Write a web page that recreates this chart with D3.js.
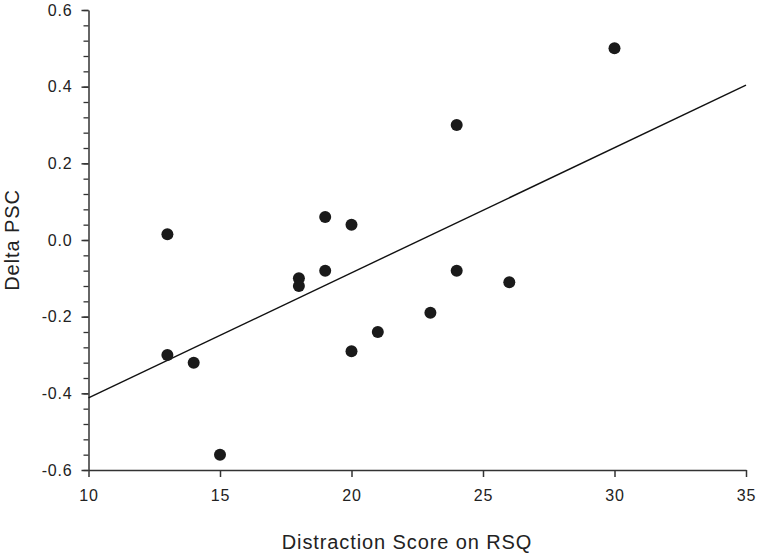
<!DOCTYPE html>
<html>
<head>
<meta charset="utf-8">
<script src="https://cdn.jsdelivr.net/npm/d3@7"></script>
<style>
  html, body { margin: 0; padding: 0; background: #fff; }
  svg { display: block; font-family: "Liberation Sans", Arial, sans-serif; }
</style>
</head>
<body>
<svg id="chart" width="760" height="554"></svg>
<script>
const xValues = [13, 13, 14, 15, 18, 18, 19, 19, 20, 20, 21, 23, 24, 24, 26, 30];
const yValues = [0.015, -0.30, -0.32, -0.56, -0.10, -0.12, 0.06, -0.08, 0.04, -0.29, -0.24, -0.19, 0.30, -0.08, -0.11, 0.50];
const fitX = [10, 35];
const fitY = [-0.412, 0.404];
const xTicks = [10, 15, 20, 25, 30, 35];
const yTicks = [-0.6, -0.4, -0.2, 0.0, 0.2, 0.4, 0.6];
const yMinorTicks = d3.range(-0.6, 0.6001, 0.04).map(v => +v.toFixed(2));
const xTitle = "Distraction Score on RSQ";
const yTitle = "Delta PSC";

const svg = d3.select("#chart");
const x = d3.scaleLinear().domain([10, 35]).range([88.5, 746]);
const y = d3.scaleLinear().domain([-0.6, 0.6]).range([470, 10]);
const axisColor = "#333";
const textColor = "#222";
const fmtY = d => d3.format(".1f")(d).replace("\u2212", "-");

// Y minor ticks
const gyMinor = svg.append("g").attr("transform", `translate(${x(10)},0)`)
  .call(d3.axisLeft(y).tickValues(yMinorTicks).tickSize(5).tickFormat(""));
gyMinor.select(".domain").remove();
gyMinor.selectAll("line").attr("stroke", axisColor).attr("stroke-width", 1.3);

// Y axis
const gy = svg.append("g").attr("transform", `translate(${x(10)},0)`)
  .call(d3.axisLeft(y).tickValues(yTicks).tickSize(7).tickSizeOuter(0).tickPadding(9)
    .tickFormat(fmtY));
gy.select(".domain").attr("stroke", axisColor).attr("stroke-width", 1.5);
gy.selectAll("line").attr("stroke", axisColor).attr("stroke-width", 1.5);
gy.selectAll("text").attr("font-size", 16).attr("fill", textColor)
  .attr("letter-spacing", 0.8)
  .attr("font-family", "Liberation Sans, Arial, sans-serif");

// X axis
const gx = svg.append("g").attr("transform", `translate(0,${y(-0.6)})`)
  .call(d3.axisBottom(x).tickValues(xTicks).tickSize(7).tickSizeOuter(0).tickPadding(13)
    .tickFormat(d3.format("d")));
gx.select(".domain").attr("stroke", axisColor).attr("stroke-width", 1.5);
gx.selectAll("line").attr("stroke", axisColor).attr("stroke-width", 1.5);
gx.selectAll("text").attr("font-size", 16).attr("fill", textColor)
  .attr("letter-spacing", 0.8)
  .attr("font-family", "Liberation Sans, Arial, sans-serif");

// Regression line
svg.append("line")
  .attr("x1", x(fitX[0])).attr("y1", y(fitY[0]))
  .attr("x2", x(fitX[1])).attr("y2", y(fitY[1]))
  .attr("stroke", "#111").attr("stroke-width", 1.4);

// Points
svg.append("g").selectAll("circle")
  .data(xValues.map((v, i) => [v, yValues[i]]))
  .join("circle")
  .attr("cx", d => x(d[0])).attr("cy", d => y(d[1]))
  .attr("r", 6).attr("fill", "#1a1a1a");

// Titles
svg.append("text")
  .attr("x", 407).attr("y", 549)
  .attr("text-anchor", "middle").attr("font-size", 20).attr("fill", textColor)
  .attr("letter-spacing", 0.9)
  .text(xTitle);
svg.append("text")
  .attr("transform", `translate(19,${(y(-0.6) + y(0.6)) / 2}) rotate(-90)`)
  .attr("text-anchor", "middle").attr("font-size", 20).attr("fill", textColor)
  .attr("letter-spacing", 0.9)
  .text(yTitle);
</script>
</body>
</html>
